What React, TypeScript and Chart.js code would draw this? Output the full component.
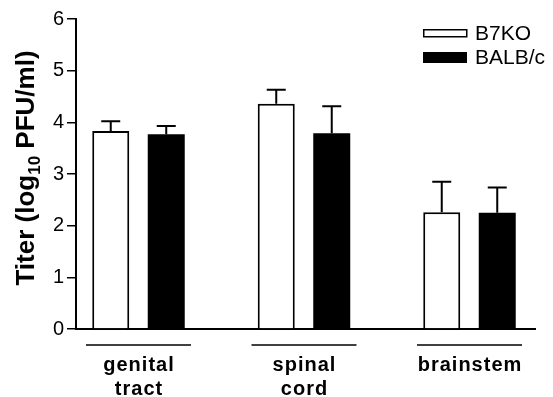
import React, { useEffect, useRef } from "react";
import { Chart, registerables } from "chart.js";

Chart.register(...registerables);

const categories: string[][] = [["genital", "tract"], ["spinal", "cord"], ["brainstem"]];
const seriesNames = ["B7KO", "BALB/c"];
const b7koValues = [3.83, 4.36, 2.26];
const b7koErrors = [0.19, 0.27, 0.59];
const balbValues = [3.77, 3.79, 2.25];
const balbErrors = [0.16, 0.52, 0.49];
const yTicks = [0, 1, 2, 3, 4, 5, 6];

const FONT = "'Liberation Sans', Arial, Helvetica, sans-serif";

const errorBarPlugin = {
  id: "errorBars",
  afterDatasetsDraw(chart: any) {
    const ctx = chart.ctx;
    const yScale = chart.scales.y;
    const errs = [b7koErrors, balbErrors];
    ctx.save();
    ctx.strokeStyle = "#000";
    ctx.lineWidth = 2;
    chart.data.datasets.forEach((ds: any, i: number) => {
      const meta = chart.getDatasetMeta(i);
      meta.data.forEach((el: any, j: number) => {
        const v = ds.data[j].y;
        const top = yScale.getPixelForValue(v + errs[i][j]);
        const x = el.x;
        ctx.beginPath();
        ctx.moveTo(x, el.y);
        ctx.lineTo(x, top);
        ctx.moveTo(x - 9.5, top);
        ctx.lineTo(x + 9.5, top);
        ctx.stroke();
      });
    });
    ctx.restore();
  },
};

const decorPlugin = {
  id: "decor",
  afterDraw(chart: any) {
    const ctx = chart.ctx;
    const xScale = chart.scales.x;
    ctx.save();
    // group labels
    ctx.fillStyle = "#000";
    ctx.strokeStyle = "#000";
    ctx.lineWidth = 1.5;
    ctx.font = `bold 20px ${FONT}`;
    (ctx as any).letterSpacing = "1px";
    ctx.textAlign = "center";
    ctx.textBaseline = "alphabetic";
    categories.forEach((lines, i) => {
      const cx = xScale.getPixelForValue(i + 1);
      ctx.beginPath();
      ctx.moveTo(cx - 52.5, 345);
      ctx.lineTo(cx + 52.5, 345);
      ctx.stroke();
      lines.forEach((t, k) => {
        ctx.fillText(t, cx + 0.5, 371 + k * 24);
      });
    });
    (ctx as any).letterSpacing = "0px";

    // legend
    const dsets = chart.data.datasets;
    ctx.lineWidth = 1.5;
    ctx.strokeStyle = "#000";
    ctx.fillStyle = dsets[0].backgroundColor;
    ctx.fillRect(423.75, 29.75, 43, 7);
    ctx.strokeRect(423.75, 29.75, 43, 7);
    ctx.fillStyle = dsets[1].backgroundColor;
    ctx.fillRect(423, 52, 44, 11);
    ctx.fillStyle = "#000";
    ctx.font = `21px ${FONT}`;
    ctx.textAlign = "left";
    ctx.textBaseline = "middle";
    ctx.fillText(dsets[0].label, 475, 34);
    ctx.fillText(dsets[1].label, 475, 58);

    // y-axis title with subscript
    const parts = [
      { t: "Titer (log", f: `bold 26px ${FONT}`, dy: 0 },
      { t: "10", f: `bold 17px ${FONT}`, dy: 6 },
      { t: " PFU/ml)", f: `bold 26px ${FONT}`, dy: 0 },
    ];
    let total = 0;
    parts.forEach((p) => {
      ctx.font = p.f;
      total += ctx.measureText(p.t).width;
    });
    ctx.translate(34, 168);
    ctx.rotate(-Math.PI / 2);
    ctx.textAlign = "left";
    ctx.textBaseline = "alphabetic";
    let x = -total / 2;
    parts.forEach((p) => {
      ctx.font = p.f;
      ctx.fillText(p.t, x, p.dy);
      x += ctx.measureText(p.t).width;
    });
    ctx.restore();
  },
};

export default function App() {
  const ref = useRef<HTMLCanvasElement>(null);
  useEffect(() => {
    document.body.style.margin = "0";
    const canvas = ref.current!;
    const chart = new Chart(canvas, {
      type: "bar",
      data: {
        datasets: [
          {
            label: seriesNames[0],
            data: b7koValues.map((v, i) => ({ x: i + 1, y: v })),
            backgroundColor: "#ffffff",
            borderColor: "#000000",
            borderWidth: 2,
            borderSkipped: "start",
          },
          {
            label: seriesNames[1],
            data: balbValues.map((v, i) => ({ x: i + 1, y: v })),
            backgroundColor: "#000000",
            borderColor: "#000000",
            borderWidth: 0,
          },
        ],
      },
      options: {
        responsive: false,
        animation: false,
        events: [],
        categoryPercentage: 111 / 165.5,
        barPercentage: 37 / 55.5,
        layout: { padding: { top: 19, right: 18, left: 0, bottom: 0 } },
        plugins: {
          legend: { display: false },
          tooltip: { enabled: false },
          title: { display: false },
        },
        scales: {
          x: {
            type: "linear",
            offset: false,
            min: 0.6224,
            max: 3.3958,
            afterBuildTicks: (s: any) => {
              s.ticks = categories.map((_, i) => ({ value: i + 1 }));
            },
            afterFit: (s: any) => {
              s.height = 68;
            },
            ticks: { display: false },
            grid: { display: false, offset: false },
            border: { display: true, color: "#000", width: 2 },
          },
          y: {
            min: 0,
            max: 6,
            afterBuildTicks: (s: any) => {
              s.ticks = yTicks.map((v) => ({ value: v }));
            },
            afterFit: (s: any) => {
              s.width = 76;
            },
            ticks: {
              color: "#000",
              font: { family: FONT, size: 20 },
              padding: 3,
            },
            grid: {
              drawOnChartArea: false,
              drawTicks: true,
              tickLength: 9,
              color: "#000",
              lineWidth: 1.5,
            },
            border: { display: true, color: "#000", width: 2 },
          },
        },
      } as any,
      plugins: [errorBarPlugin, decorPlugin],
    });
    return () => chart.destroy();
  }, []);
  return (
    <div style={{ width: 553, height: 397, background: "#fff" }}>
      <canvas ref={ref} width={553} height={397} style={{ display: "block" }} />
    </div>
  );
}
